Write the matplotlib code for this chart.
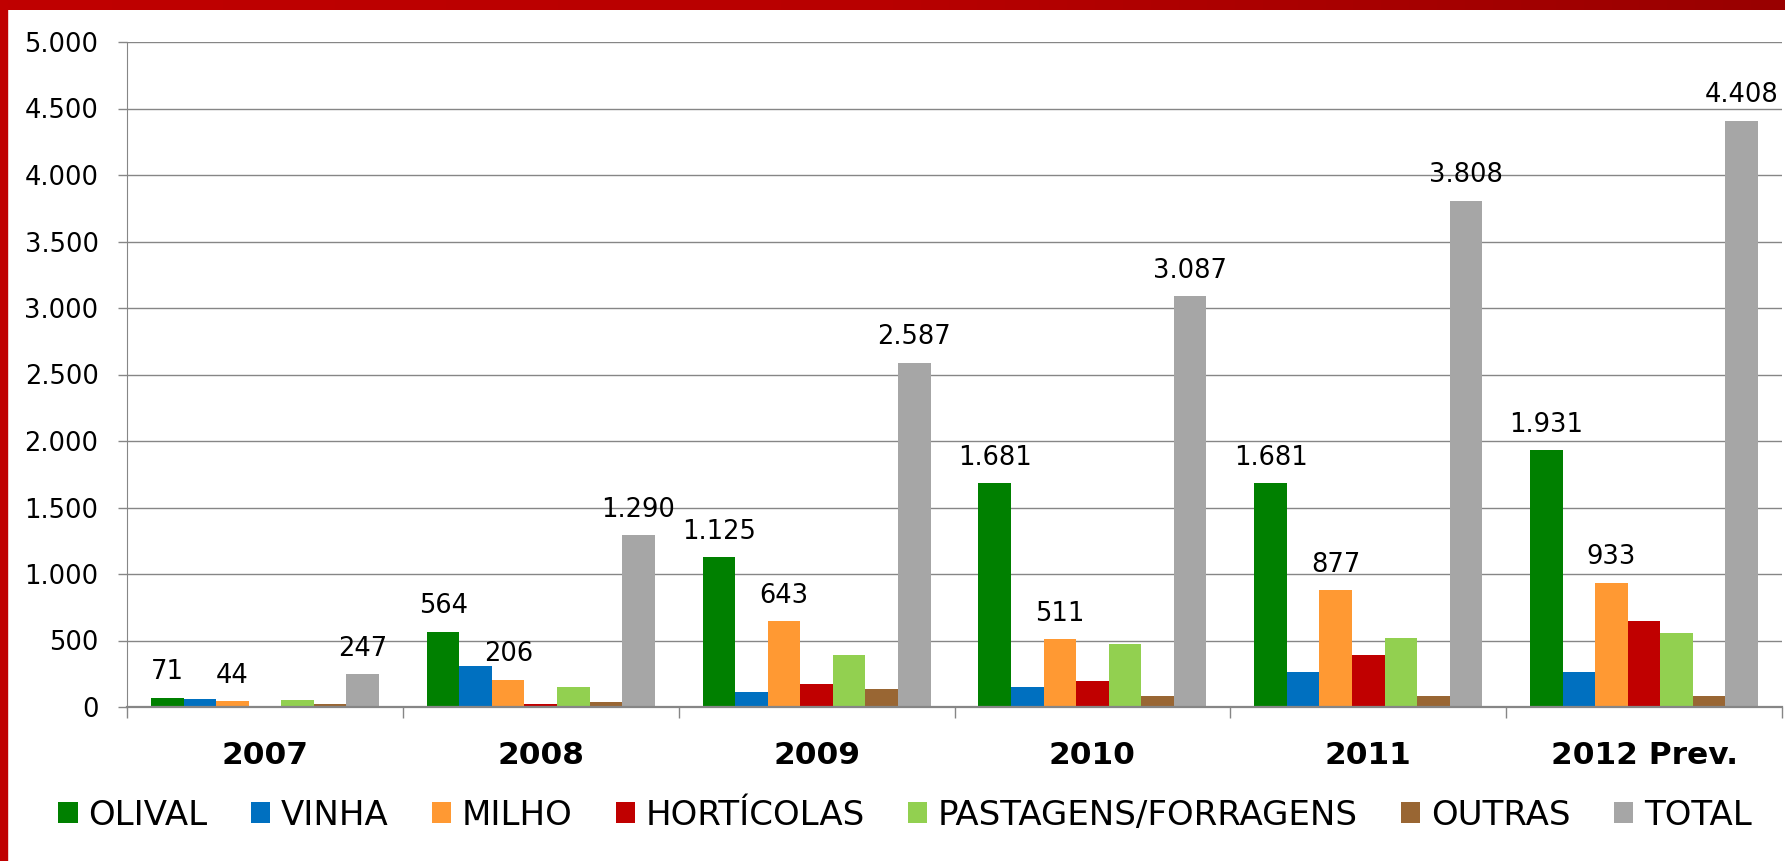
import numpy as np
import matplotlib
matplotlib.use("Agg")
import matplotlib.pyplot as plt
from matplotlib.patches import Rectangle
from matplotlib.colors import LinearSegmentedColormap
from matplotlib.ticker import FuncFormatter

plt.rcParams['font.family'] = 'DejaVu Sans'

anos = ['2007', '2008', '2009', '2010', '2011', '2012 Prev.']
culturas = ['OLIVAL', 'VINHA', 'MILHO', 'HORTÍCOLAS', 'PASTAGENS/FORRAGENS', 'OUTRAS', 'TOTAL']
olival = [71, 564, 1125, 1681, 1681, 1931]
vinha = [60, 310, 115, 148, 261, 261]
milho = [44, 206, 643, 511, 877, 933]
horticolas = [0, 25, 175, 196, 392, 645]
pastagens = [50, 150, 390, 471, 517, 558]
outras = [22, 35, 139, 80, 80, 80]
total = [247, 1290, 2587, 3087, 3808, 4408]
series = [olival, vinha, milho, horticolas, pastagens, outras, total]
cores = ['#008000', '#0070C0', '#FF9933', '#C00000', '#92D050', '#996633', '#A6A6A6']
com_rotulo = ['OLIVAL', 'MILHO', 'TOTAL']


def fmt(v):
    # separador de milhares com ponto
    return f"{int(v):,}".replace(",", ".")


W, H = 1785, 861
fig = plt.figure(figsize=(W / 100, H / 100), dpi=100)

# moldura vermelha (topo e lado esquerdo)
faixa = fig.add_axes([0, 1 - 10 / H, 1, 10 / H])
grad = LinearSegmentedColormap.from_list('g', ['#C00000', '#B80000', '#990000'])
faixa.imshow(np.linspace(0, 1, 256)[None, :], aspect='auto', cmap=grad)
faixa.axis('off')
fig.add_artist(Rectangle((0, 0), 7 / W, 1, transform=fig.transFigure, color='#C00000', zorder=5))

ax = fig.add_axes([127 / W, 1 - 707 / H, (1782 - 127) / W, (707 - 42) / H])

x = np.arange(len(anos)) + 0.5
w = 0.118
for j, (nome, vals, cor) in enumerate(zip(culturas, series, cores)):
    pos = x + (j - 3) * w
    ax.bar(pos, vals, w, color=cor, label=nome, zorder=3)
    if nome in com_rotulo:
        for p, v in zip(pos, vals):
            ax.annotate(fmt(v), (p, v), xytext=(0, 9), textcoords='offset points',
                        ha='center', va='bottom', fontsize=18.5, zorder=4)

ax.set_xlim(0, len(anos))
ax.set_ylim(0, 5000)
ax.set_yticks(range(0, 5001, 500))
ax.yaxis.set_major_formatter(FuncFormatter(lambda v, p: fmt(v)))
ax.grid(axis='y', color='#868686', lw=1)
ax.set_axisbelow(True)

ax.set_xticks(x)
ax.set_xticklabels(anos, fontsize=22.5, fontweight='bold')
ax.set_xticks(np.arange(len(anos) + 1), minor=True)
ax.tick_params(axis='x', which='major', length=0, pad=24.5)
ax.tick_params(axis='x', which='minor', length=8, color='#868686', width=1)
ax.tick_params(axis='y', length=6.5, color='#868686', width=1, pad=14, labelsize=18.5)

for s in ['top', 'right']:
    ax.spines[s].set_visible(False)
ax.spines['left'].set_color('#868686')
ax.spines['bottom'].set_color('#868686')
ax.spines['bottom'].set_linewidth(1.6)
ax.spines['bottom'].set_zorder(5)

fig.legend(loc='center', bbox_to_anchor=(0.507, 0.0534), ncol=7, frameon=False,
           fontsize=24.5, handlelength=0.56, handleheight=0.56,
           handletextpad=0.32, columnspacing=1.27)

fig.savefig('out.png', dpi=100)
